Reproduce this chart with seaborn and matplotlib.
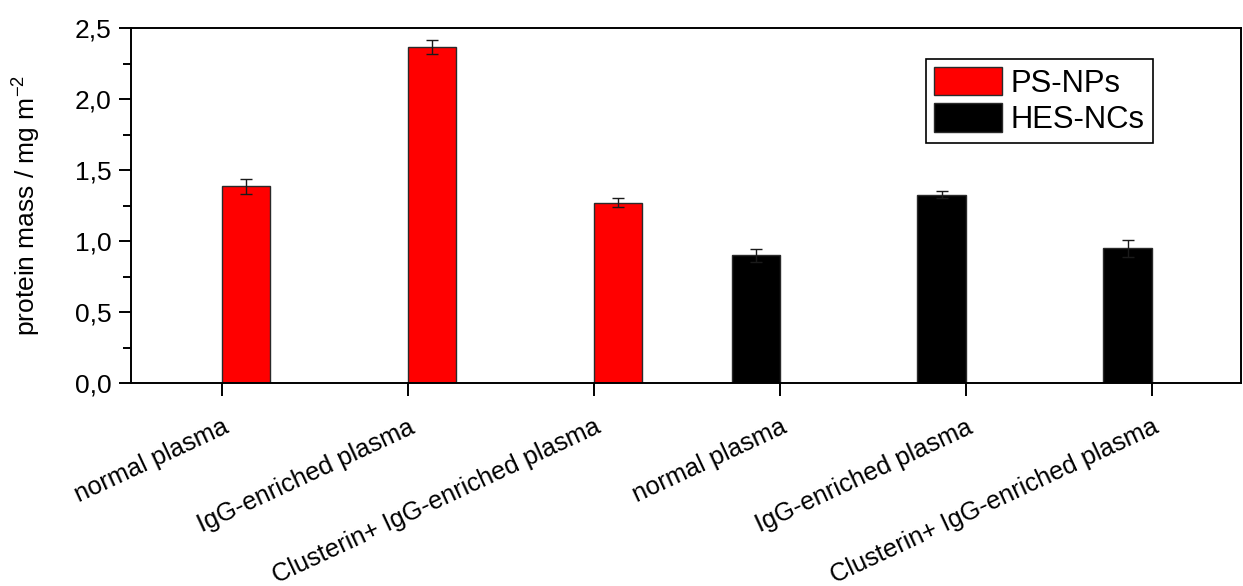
import matplotlib
matplotlib.use("Agg")
import matplotlib.pyplot as plt
import pandas as pd
import seaborn as sns
from matplotlib.ticker import MultipleLocator

# Data
categories = ["normal plasma", "IgG-enriched plasma", "Clusterin+ IgG-enriched plasma",
              "normal plasma", "IgG-enriched plasma", "Clusterin+ IgG-enriched plasma"]
groups = ["PS-NPs", "PS-NPs", "PS-NPs", "HES-NCs", "HES-NCs", "HES-NCs"]
values = [1.385, 2.365, 1.270, 0.898, 1.325, 0.948]
errors = [0.055, 0.048, 0.030, 0.047, 0.025, 0.059]
ytick_values = [0.0, 0.5, 1.0, 1.5, 2.0, 2.5]
ytick_labels = ["0,0", "0,5", "1,0", "1,5", "2,0", "2,5"]
colors = {"PS-NPs": "#ff0000", "HES-NCs": "#000000"}

df = pd.DataFrame({"slot": list(range(len(categories))), "group": groups, "value": values})

sns.set_style("ticks")
plt.rcParams["font.family"] = ["Liberation Sans", "DejaVu Sans"]
plt.rcParams["mathtext.default"] = "regular"
for k in ["text.color", "axes.labelcolor", "xtick.color", "ytick.color"]:
    plt.rcParams[k] = "black"

fig = plt.figure(figsize=(12.43, 5.86), dpi=100)
ax = fig.add_axes([0.1054, 0.3464, 0.893, 0.6058])

sns.barplot(data=df, x="slot", y="value", hue="group", hue_order=["HES-NCs", "PS-NPs"],
            palette=colors, saturation=1, width=0.52, dodge=True, errorbar=None, ax=ax,
            edgecolor="#2a2a2a", linewidth=1)

# error bars on top of each drawn bar
for bar in ax.patches:
    h = bar.get_height()
    if h is None or h != h or h <= 0:
        continue
    xc = bar.get_x() + bar.get_width() / 2
    i = int(round(xc))
    ax.errorbar(xc, h, yerr=errors[i], fmt="none", ecolor="#1a1a1a",
                elinewidth=1, capsize=4, capthick=1)

ax.set_xlim(-0.49, 5.48)
ax.set_ylim(0, 2.5)
ax.set_yticks(ytick_values)
ax.set_yticklabels(ytick_labels, fontsize=19)
ax.yaxis.set_minor_locator(MultipleLocator(0.25))
ax.set_xticks(range(len(categories)))
ax.set_xticklabels(categories, rotation=25, ha="right", rotation_mode="anchor", fontsize=18.3)
ax.set_xlabel("")
ax.set_ylabel("protein mass / mg m$^{-2}$", fontsize=19, labelpad=23)

for s in ax.spines.values():
    s.set_linewidth(1.4)
    s.set_color("black")
ax.tick_params(axis="both", which="major", length=9, width=1.4, direction="out", pad=5)
ax.tick_params(axis="y", which="minor", length=5.5, width=1.4, direction="out")
ax.tick_params(axis="x", pad=14)

handles, labels = ax.get_legend_handles_labels()
order = [labels.index("PS-NPs"), labels.index("HES-NCs")]
leg = ax.legend([handles[k] for k in order], [labels[k] for k in order],
                loc="upper left", bbox_to_anchor=(0.716, 0.913), borderaxespad=0,
                fontsize=22.3, frameon=True, fancybox=False, handlelength=2.2,
                handleheight=1.05, handletextpad=0.3, labelspacing=0.15,
                borderpad=0.25)
leg.get_frame().set_edgecolor("black")
leg.get_frame().set_linewidth(1.2)
leg.get_frame().set_alpha(1)

fig.savefig("out.png", dpi=100)
